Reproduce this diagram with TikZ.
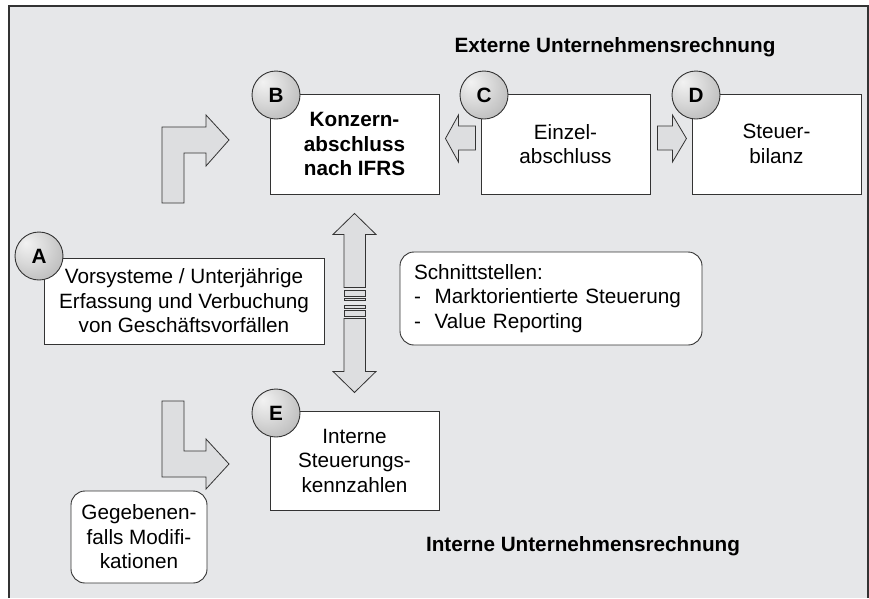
\documentclass[tikz,border=0pt]{standalone}
\usepackage{fontspec}
\setmainfont{Liberation Sans}
\newcommand\diagfont{\fontsize{20.7}{24.5}\selectfont}
\definecolor{bggray}{RGB}{230,231,233}
\definecolor{arrowgray}{RGB}{221,222,224}
\definecolor{linegray}{RGB}{51,51,51}
\pgfdeclareradialshading{badgeshade}{\pgfpoint{-14bp}{14bp}}{color(0bp)=(gray!10); color(18bp)=(gray!30);
  color(45bp)=(gray!65); color(66bp)=(gray!85)}
\tikzset{
  box/.style={draw=linegray, line width=0.9pt, fill=white, align=center, inner sep=0pt,
    minimum width=169pt, minimum height=100pt},
  rbox/.style={box, rounded corners=14pt},
  badge/.style={circle, draw=linegray, line width=0.9pt, shading=badgeshade, minimum size=48pt,
    inner sep=0pt, font=\diagfont\bfseries},
  blockarrow/.style={draw=linegray, line width=0.8pt, fill=arrowgray, line join=miter},
}
\begin{document}
\begin{tikzpicture}[x=1pt, y=-1pt, font=\diagfont]
  \useasboundingbox (0,0) rectangle (869,598);
  \fill[bggray] (9,6) rectangle (868,598);
  \draw[linegray, line width=1.2pt] (9,598) -- (9,6) -- (868,6) -- (868,598);

  \node[font=\diagfont\bfseries] (ext) at (615,47) {Externe Unternehmensrechnung};
  \node[font=\diagfont\bfseries] (int) at (583,546) {Interne Unternehmensrechnung};

  \node[box, font=\diagfont\bfseries] (B) at (354.5,144) {Konzern-\\abschluss\\nach IFRS};
  \node[box] (C) at (565.5,144) {Einzel-\\abschluss};
  \node[box] (D) at (776.5,144) {Steuer-\\bilanz};
  \node[box, minimum width=280pt, minimum height=86pt] (A) at (184,301)
    {Vorsysteme / Unterjährige\\Erfassung und Verbuchung\\von Geschäftsvorfällen};
  \node[box, minimum height=99pt] (E) at (354.5,460.5) {Interne\\Steuerungs-\\kennzahlen};
  \node[rbox, align=left, text width=274pt, inner xsep=14pt, minimum height=93pt] (schnitt) at (551,298.5)
    {Schnittstellen:\\-~~Marktorientierte Steuerung\\-~~Value Reporting};
  \node[rbox, minimum width=136pt, minimum height=92pt] (mod) at (139,537)
    {Gegebenen-\\falls Modifi-\\kationen};

  \draw[blockarrow, shift={(B.east)}] (6,-5.5) -- (19,-29) -- (19,-18) -- (36,-18) -- (36,6)
    -- (19,6) -- (19,18) -- cycle;
  \draw[blockarrow, shift={(C.east)}] (36,-5.5) -- (22,-29) -- (22,-18) -- (7,-18) -- (7,6)
    -- (22,6) -- (22,18) -- cycle;

  \draw[blockarrow, shift={(B.south)}] (0,19) -- (21.5,40) -- (11,40) -- (11,93) -- (-10.5,93)
    -- (-10.5,40) -- (-21.5,40) -- cycle;
  \draw[blockarrow, shift={(B.south)}] (0,198) -- (21.5,177) -- (11,177) -- (11,124) -- (-10.5,124)
    -- (-10.5,177) -- (-21.5,177) -- cycle;
  \foreach \ya/\yb in {95.5/101.5, 103.5/106, 110.5/113.5, 116/122}
    \draw[blockarrow, shift={(B.south)}] (-10.5,\ya) rectangle (11,\yb);

  \draw[blockarrow] (162,203) -- (162,127) -- (206,127) -- (206,115) -- (229,140) -- (206,166)
    -- (206,153) -- (184,153) -- (184,203) -- cycle;
  \draw[blockarrow] (162,401) -- (184,401) -- (184,451) -- (206,451) -- (206,439) -- (229,464)
    -- (206,489) -- (206,477) -- (162,477) -- cycle;

  \node[badge] (bA) at (39,256) {A};
  \node[badge] (bB) at (276,95) {B};
  \node[badge] (bC) at (484,95) {C};
  \node[badge] (bD) at (696,95) {D};
  \node[badge] (bE) at (276,413) {E};
\end{tikzpicture}
\end{document}
